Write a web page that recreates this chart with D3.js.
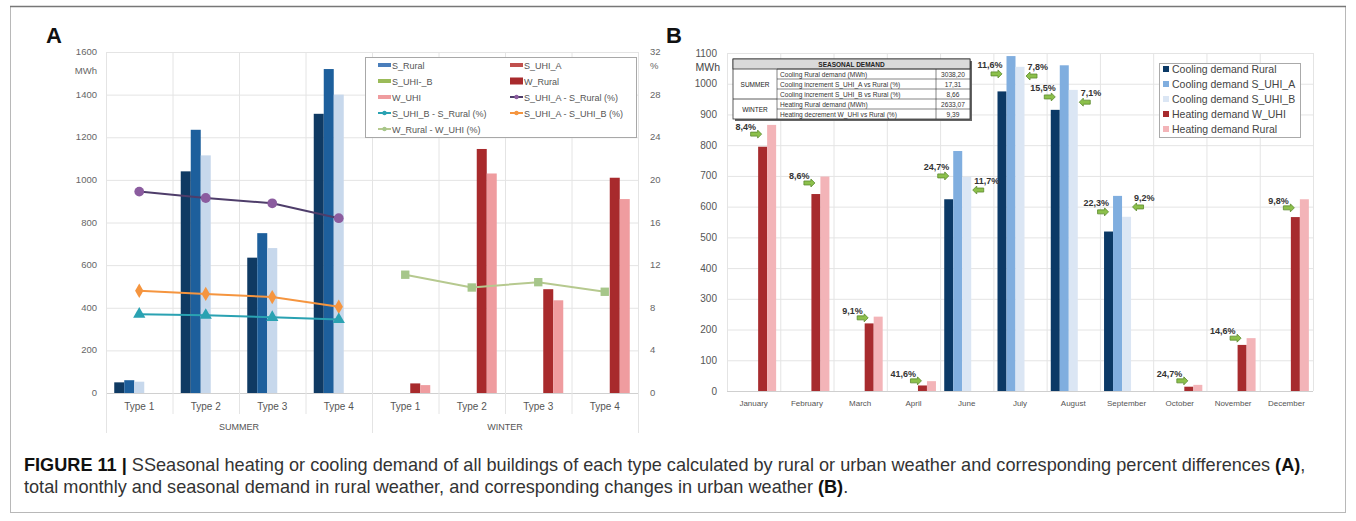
<!DOCTYPE html>
<html><head><meta charset="utf-8">
<script src="https://cdn.jsdelivr.net/npm/d3@7"></script>
<style>body{margin:0;background:#fff;} svg{display:block;font-family:"Liberation Sans",Arial,sans-serif;}</style>
</head><body><svg id="c" width="1356" height="521"></svg>
<script>
// ---------- DATA: panel A ----------
const typeLabels = ["Type 1","Type 2","Type 3","Type 4"];
const seasonLabels = ["SUMMER","WINTER"];
const sRural = [50,1040,635,1310];
const sUHIA  = [60,1235,750,1520];
const sUHIB  = [53,1115,680,1400];
const wRural = [45,1145,487,1010];
const wUHI   = [37,1030,435,910];
const pctUHIA_Rural  = [18.9,18.3,17.8,16.4];
const pctUHIB_Rural  = [7.4,7.3,7.1,6.9];
const pctUHIA_UHIB   = [9.6,9.3,9.0,8.1];
const pctWRural_WUHI = [11.1,9.9,10.4,9.5];
const leftTicksA  = [0,200,400,600,800,1000,1200,1400,1600];
const rightTicksA = [0,4,8,12,16,20,24,28,32];
const legendA = ["S_Rural","S_UHI_A","S_UHI-_B","W_Rural","W_UHI","S_UHI_A - S_Rural (%)","S_UHI_B - S_Rural (%)","S_UHI_A - S_UHI_B (%)","W_Rural - W_UHI (%)"];

// ---------- DATA: panel B ----------
const months = ["January","February","March","April","June","July","August","September","October","November","December"];
const coolRural = [null,null,null,null,624,975,915,519,null,null,null];
const coolUHIA  = [null,null,null,null,781,1090,1060,635,null,null,null];
const coolUHIB  = [null,null,null,null,697,1055,980,567,null,null,null];
const heatWUHI  = [795,641,220,18,null,null,null,null,14,150,566];
const heatRural = [866,698,242,32,null,null,null,null,20,172,624];
const heatPct   = ["8,4%","8,6%","9,1%","41,6%",null,null,null,null,"24,7%","14,6%","9,8%"];
const coolPctA  = [null,null,null,null,"24,7%","11,6%","15,5%","22,3%",null,null,null];
const coolPctB  = [null,null,null,null,"11,7%","7,8%","7,1%","9,2%",null,null,null];
// MWh level at which each percent arrow sits
const heatArrowAt  = [836,677,238,33,null,null,null,null,33,172,596];
const coolArrowAAt = [null,null,null,null,700,1032,957,583,null,null,null];
const coolArrowBAt = [null,null,null,null,654,1025,940,599,null,null,null];
const ticksB = [0,100,200,300,400,500,600,700,800,900,1000,1100];
const legendB = ["Cooling demand Rural","Cooling demand S_UHI_A","Cooling demand S_UHI_B","Heating demand W_UHI","Heating demand Rural"];
const tableTitle = "SEASONAL DEMAND";
const tableSeasons = ["SUMMER","WINTER"];
const tableItems = ["Cooling Rural demand (MWh)","Cooling increment S_UHI_A vs Rural (%)","Cooling increment S_UHI_B vs Rural (%)","Heating Rural demand (MWh)","Heating decrement W_UHI vs Rural (%)"];
const tableValues = ["3038,20","17,31","8,66","2633,07","9,39"];

const captionBold = "FIGURE 11 | ";
const caption1 = "SSeasonal heating or cooling demand of all buildings of each type calculated by rural or urban weather and corresponding percent differences ";
const caption2 = "total monthly and seasonal demand in rural weather, and corresponding changes in urban weather ";

// ---------- DRAW ----------
const svg = d3.select("#c");
svg.append("rect").attr("x",10.5).attr("y",6.5).attr("width",1335).attr("height",506)
  .attr("fill","none").attr("stroke","#b8b8b8");
svg.append("line").attr("x1",10).attr("x2",1346).attr("y1",6.5).attr("y2",6.5).attr("stroke","#777").attr("stroke-width",1.5);

const grid = "#e4e4e4";

// ===== Panel A =====
{
  const g = svg.append("g");
  const L=106,R=638,T=52,B=393;
  const y = d3.scaleLinear().domain([0,1600]).range([B,T]);
  const y2 = d3.scaleLinear().domain([0,32]).range([B,T]);
  const cats = d3.range(8);
  const x = d3.scaleBand().domain(cats).range([L,R]);
  const bw = x.bandwidth();
  const slot = d3.scaleBand().domain(d3.range(5)).range([0,50]);
  const off = (bw-50)/2;

  g.append("text").attr("x",46).attr("y",43).attr("font-size",22).attr("font-weight","bold").attr("fill","#111").text("A");

  g.selectAll(".hg").data(leftTicksA).join("line")
    .attr("x1",L).attr("x2",R).attr("y1",d=>y(d)+0.5).attr("y2",d=>y(d)+0.5)
    .attr("stroke",d=>d===0?"#d0d0d0":grid);
  g.selectAll(".vg").data(d3.range(9)).join("line")
    .attr("x1",i=>L+i*bw+0.5).attr("x2",i=>L+i*bw+0.5).attr("y1",T)
    .attr("y2",i=>(i%4===0)?433:414).attr("stroke",grid);

  g.selectAll(".yl").data(leftTicksA).join("text")
    .attr("x",97).attr("y",d=>y(d)+3).attr("text-anchor","end").attr("font-size",9.5).attr("fill","#666").text(d=>d);
  g.append("text").attr("x",97).attr("y",74).attr("text-anchor","end").attr("font-size",9.5).attr("fill","#666").text("MWh");
  g.selectAll(".yr").data(rightTicksA).join("text")
    .attr("x",650).attr("y",d=>y2(d)+3).attr("font-size",9.5).attr("fill","#666").text(d=>d);
  g.append("text").attr("x",650).attr("y",69).attr("font-size",9.5).attr("fill","#666").text("%");

  g.selectAll(".xl").data(cats).join("text")
    .attr("x",i=>x(i)+bw/2).attr("y",410).attr("text-anchor","middle").attr("font-size",10).attr("fill","#555")
    .text(i=>typeLabels[i%4]);
  g.selectAll(".sl").data(seasonLabels).join("text")
    .attr("x",(d,i)=>L+bw*(i*4+2)).attr("y",430).attr("text-anchor","middle").attr("font-size",9).attr("fill","#555").text(d=>d);

  const barSeries = [
    {v:sRural,s:0,c:"#0f3a63",grp:0},
    {v:sUHIA,s:1,c:"#1d5f9c",grp:0},
    {v:sUHIB,s:2,c:"#c7d8ec",grp:0},
    {v:wRural,s:3,c:"#a82a2c",grp:1},
    {v:wUHI,s:4,c:"#ef9c9f",grp:1}
  ];
  barSeries.forEach(ser=>{
    g.selectAll(null).data(ser.v).join("rect")
      .attr("x",(d,i)=>x(ser.grp*4+i)+off+slot(ser.s))
      .attr("width",slot.bandwidth())
      .attr("y",d=>y(d)).attr("height",d=>B-y(d)).attr("fill",ser.c);
  });

  const lineSeries = [
    {v:pctUHIA_Rural,grp:0,lc:"#4e3d6a",mc:"#8b5c9f",m:"circle"},
    {v:pctUHIA_UHIB,grp:0,lc:"#f5953f",mc:"#f5953f",m:"diamond"},
    {v:pctUHIB_Rural,grp:0,lc:"#2aa2b2",mc:"#2aa2b2",m:"triangle"},
    {v:pctWRural_WUHI,grp:1,lc:"#b6c98f",mc:"#a6c68a",m:"square"}
  ];
  const sym = {circle:d3.symbolCircle,diamond:d3.symbolDiamond,triangle:d3.symbolTriangle,square:d3.symbolSquare};
  const size = {circle:75,diamond:60,triangle:65,square:70};
  lineSeries.forEach(ser=>{
    const pts = ser.v.map((d,i)=>[x(ser.grp*4+i)+bw/2,y2(d)]);
    g.append("path").attr("d",d3.line()(pts)).attr("fill","none").attr("stroke",ser.lc).attr("stroke-width",2);
    g.selectAll(null).data(pts).join("path")
      .attr("transform",p=>`translate(${p[0]},${p[1]})`)
      .attr("d",d3.symbol().type(sym[ser.m]).size(size[ser.m])).attr("fill",ser.mc);
  });

  const lg = g.append("g");
  lg.append("rect").attr("x",365.5).attr("y",57.5).attr("width",271).attr("height",80).attr("fill","#fff").attr("stroke","#a8a8a8");
  const legItems = [
    {t:legendA[0],c:"#4a7ebb",k:"bar"},{t:legendA[1],c:"#c0504d",k:"bar"},
    {t:legendA[2],c:"#9bbb59",k:"bar"},{t:legendA[3],c:"#a82a2c",k:"bigbar"},
    {t:legendA[4],c:"#ef9c9f",k:"bar"},{t:legendA[5],c:"#4e3d6a",mc:"#8b5c9f",k:"line"},
    {t:legendA[6],c:"#2aa2b2",mc:"#2aa2b2",k:"line"},{t:legendA[7],c:"#f5953f",mc:"#f5953f",k:"line"},
    {t:legendA[8],c:"#b6c98f",mc:"#a6c68a",k:"line"}
  ];
  legItems.forEach((it,i)=>{
    const cx = i%2===0?378:510, cy = 65+Math.floor(i/2)*16;
    if(it.k==="bar") lg.append("rect").attr("x",cx).attr("y",cy-2).attr("width",13).attr("height",4).attr("fill",it.c);
    else if(it.k==="bigbar") lg.append("rect").attr("x",cx).attr("y",cy-3.5).attr("width",13).attr("height",7).attr("fill",it.c);
    else {
      lg.append("line").attr("x1",cx).attr("x2",cx+13).attr("y1",cy).attr("y2",cy).attr("stroke",it.c).attr("stroke-width",2);
      lg.append("circle").attr("cx",cx+6.5).attr("cy",cy).attr("r",2.2).attr("fill",it.mc);
    }
    lg.append("text").attr("x",cx+14).attr("y",cy+3.5).attr("font-size",9).attr("fill","#555").text(it.t);
  });
}

// ===== Panel B =====
{
  const g = svg.append("g");
  const L=727,R=1313,T=53,B=391;
  const y = d3.scaleLinear().domain([0,1100]).range([B,T]);
  const x = d3.scaleBand().domain(months).range([L,R]);
  const bw = x.bandwidth();
  const slot = d3.scaleBand().domain(d3.range(5)).range([0,45]);
  const off = (bw-45)/2;

  g.append("text").attr("x",666).attr("y",43).attr("font-size",22).attr("font-weight","bold").attr("fill","#111").text("B");

  g.selectAll(".hg").data(ticksB).join("line")
    .attr("x1",L).attr("x2",R).attr("y1",d=>y(d)+0.5).attr("y2",d=>y(d)+0.5).attr("stroke",d=>d===0?"#cfcfcf":grid);
  g.selectAll(".vg").data(d3.range(12)).join("line")
    .attr("x1",i=>L+i*bw+0.5).attr("x2",i=>L+i*bw+0.5).attr("y1",T).attr("y2",B).attr("stroke",grid);

  g.selectAll(".yl").data(ticksB).join("text")
    .attr("x",717).attr("y",d=>y(d)+3.5).attr("text-anchor","end").attr("font-size",10).attr("fill","#555").text(d=>d);
  g.append("text").attr("x",720).attr("y",71).attr("text-anchor","end").attr("font-size",10.5).attr("fill","#444").text("MWh");
  g.selectAll(".xl").data(months).join("text")
    .attr("x",d=>x(d)+bw/2).attr("y",406).attr("text-anchor","middle").attr("font-size",8).attr("fill","#555").text(d=>d);

  const colors = ["#0b3966","#80aedf","#dbe6f4","#a72b2e","#f3b4b8"];
  const series = [coolRural,coolUHIA,coolUHIB,heatWUHI,heatRural];
  series.forEach((arr,s)=>{
    g.selectAll(null).data(months.map((m,i)=>({m,v:arr[i]})).filter(d=>d.v!=null)).join("rect")
      .attr("x",d=>x(d.m)+off+slot(s)).attr("width",slot.bandwidth())
      .attr("y",d=>y(d.v)).attr("height",d=>B-y(d.v)).attr("fill",colors[s]);
  });

  function arrow(cx,cy,dir){
    const w=11,h=8,hw=4;
    const pts = [[-w/2,-h/4],[w/2-hw,-h/4],[w/2-hw,-h/2],[w/2,0],[w/2-hw,h/2],[w/2-hw,h/4],[-w/2,h/4]];
    g.append("path").attr("d",d3.line()(pts)+"Z")
      .attr("transform",`translate(${cx},${cy}) scale(${dir},1)`)
      .attr("fill","#8cc04b").attr("stroke","#5c8a2e").attr("stroke-width",0.8).attr("stroke-linejoin","round");
  }
  const lab = (tx,ty,anchor,t)=>g.append("text").attr("x",tx).attr("y",ty).attr("text-anchor",anchor)
      .attr("font-size",9).attr("font-weight","bold").attr("fill","#333").text(t);
  months.forEach((m,i)=>{
    if(heatPct[i]){
      const ax = x(m)+off+slot(3)-2, ay=y(heatArrowAt[i]);
      arrow(ax,ay,1); lab(ax,ay-4,"end",heatPct[i]);
    }
    if(coolPctA[i]){
      const ax = x(m)+off+slot(0)-1, ay=y(coolArrowAAt[i]);
      arrow(ax,ay,1); lab(ax+6,ay-6,"end",coolPctA[i]);
    }
    if(coolPctB[i]){
      const ax = x(m)+off+slot(2)+slot.bandwidth()+7, ay=y(coolArrowBAt[i]);
      arrow(ax,ay,-1); lab(ax-4,ay-6,"start",coolPctB[i]);
    }
  });

  const tg = g.append("g");
  const tx0=733,tx1=777,tx2=936,tx3=970,ty0=59,hh=10,rh=10;
  tg.append("rect").attr("x",tx0+2).attr("y",ty0+2).attr("width",tx3-tx0).attr("height",hh+5*rh).attr("fill","#666");
  tg.append("rect").attr("x",tx0).attr("y",ty0).attr("width",tx3-tx0).attr("height",hh+5*rh).attr("fill","#fff").attr("stroke","#333").attr("stroke-width",0.8);
  tg.append("rect").attr("x",tx0).attr("y",ty0).attr("width",tx3-tx0).attr("height",hh).attr("fill","#dadada").attr("stroke","#333").attr("stroke-width",0.8);
  tg.append("text").attr("x",(tx0+tx3)/2).attr("y",ty0+7.5).attr("text-anchor","middle").attr("font-size",6.5).attr("font-weight","bold").attr("fill","#222").text(tableTitle);
  tableItems.forEach((t,i)=>{
    const ry = ty0+hh+i*rh;
    tg.append("line").attr("x1",tx1).attr("x2",tx3).attr("y1",ry).attr("y2",ry).attr("stroke","#333").attr("stroke-width",0.6);
    tg.append("text").attr("x",tx1+3).attr("y",ry+7.5).attr("font-size",6.6).attr("fill","#333").text(t);
    tg.append("text").attr("x",(tx2+tx3)/2).attr("y",ry+7.5).attr("text-anchor","middle").attr("font-size",6.6).attr("fill","#333").text(tableValues[i]);
  });
  tg.append("line").attr("x1",tx0).attr("x2",tx1).attr("y1",ty0+hh+3*rh).attr("y2",ty0+hh+3*rh).attr("stroke","#333").attr("stroke-width",0.8);
  [tx1,tx2].forEach(xx=>tg.append("line").attr("x1",xx).attr("x2",xx).attr("y1",ty0+hh).attr("y2",ty0+hh+5*rh).attr("stroke","#333").attr("stroke-width",0.6));
  tg.append("text").attr("x",(tx0+tx1)/2).attr("y",ty0+hh+1.5*rh+2.5).attr("text-anchor","middle").attr("font-size",6.5).attr("fill","#222").text(tableSeasons[0]);
  tg.append("text").attr("x",(tx0+tx1)/2).attr("y",ty0+hh+4*rh+2.5).attr("text-anchor","middle").attr("font-size",6.5).attr("fill","#222").text(tableSeasons[1]);

  const lg = g.append("g");
  lg.append("rect").attr("x",1159.5).attr("y",63.5).attr("width",141).attr("height",74).attr("fill","#fff").attr("stroke","#aaa");
  legendB.forEach((t,i)=>{
    const cy = 69+i*15;
    lg.append("rect").attr("x",1163).attr("y",cy-3).attr("width",6).attr("height",6).attr("fill",colors[i]);
    lg.append("text").attr("x",1172).attr("y",cy+4).attr("font-size",10.5).attr("fill","#444").text(t);
  });
}

// ===== Caption =====
{
  const t1 = svg.append("text").attr("x",24).attr("y",471).attr("font-size",14).attr("fill","#333");
  t1.append("tspan").attr("font-weight","bold").attr("fill","#111").text(captionBold);
  t1.append("tspan").text(caption1);
  t1.append("tspan").attr("font-weight","bold").attr("fill","#111").text("(A)");
  t1.append("tspan").text(",");
  const t2 = svg.append("text").attr("x",24).attr("y",493).attr("font-size",14).attr("fill","#333");
  t2.append("tspan").text(caption2);
  t2.append("tspan").attr("font-weight","bold").attr("fill","#111").text("(B)");
  t2.append("tspan").text(".");
  const w = t1.node().getComputedTextLength();
  const fs = 14*1283/w;
  t1.attr("font-size",fs); t2.attr("font-size",fs);
}
</script></body></html>
